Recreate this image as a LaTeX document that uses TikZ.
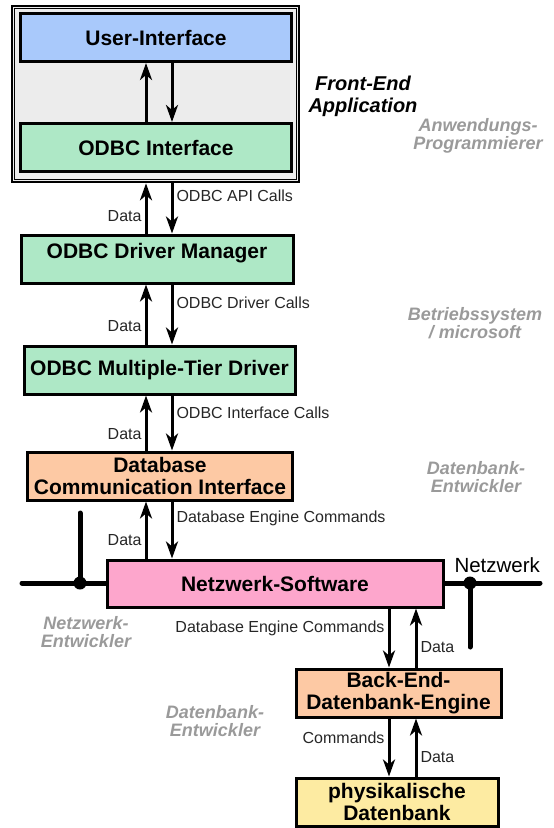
\documentclass[tikz,border=0pt]{standalone}
\usepackage{fontspec}
\setmainfont{Liberation Sans}
\usetikzlibrary{arrows.meta, positioning}

\definecolor{uiBlue}{HTML}{A9C9FB}
\definecolor{odbcGreen}{HTML}{AEE8C6}
\definecolor{dbOrange}{HTML}{FDC9A4}
\definecolor{netPink}{HTML}{FDA6CC}
\definecolor{dbYellow}{HTML}{FDEBA2}
\definecolor{frameGray}{HTML}{ECECEC}
\definecolor{roleGray}{HTML}{9A9A9A}

\begin{document}
\begin{tikzpicture}[x=1pt, y=-1pt,
    box/.style={draw, line width=3pt, inner sep=0pt, align=center, minimum height=48pt,
      font=\fontsize{21}{21.5}\selectfont\bfseries},
    flowline/.style={draw, line width=3pt, -{Stealth[length=17pt, width=12pt, inset=5pt]}},
    lbl/.style={font=\fontsize{16}{16}\selectfont, inner sep=3pt, text=black!85},
    role/.style={font=\fontsize{18}{18}\selectfont\bfseries\itshape, text=roleGray, align=center},
    lan/.style={line width=5pt, line cap=round},
    hub/.style={circle, fill, inner sep=0pt, minimum size=13pt}]
		\useasboundingbox (0,0) rectangle (554,828);

		% front-end application frame
		\node[draw, line width=2.6pt, fill=frameGray, minimum width=287pt, minimum height=176pt] (app) at (155.5,94) {};
		\draw[line width=1pt] ([shift={(4,4)}]app.north west) rectangle ([shift={(-4,-4)}]app.south east);

		\coordinate (colU) at (146,0);
		\coordinate (colD) at (172,0);
		\coordinate (colBD) at (389,0);
		\coordinate (colBU) at (416,0);

		% network line
		\coordinate (lanL) at (22,583);
		\coordinate (lanR) at (540,583);
		\node[hub] (hubL) at (80,583) {};
		\node[hub] (hubR) at (470,583) {};
		\coordinate (stubL) at (80,513);
		\coordinate (stubR) at (470,647);

		\node[box, fill=uiBlue, minimum width=271pt] (ui) at (156,37.5) {User-Interface};
		\node[box, fill=odbcGreen, minimum width=271pt] (odbci) at (156,147.5) {ODBC Interface};
		\node[box, fill=odbcGreen, minimum width=272pt, text height=23pt, text depth=25pt] (mgr) at (157,259) {ODBC Driver Manager};
		\node[box, fill=odbcGreen, minimum width=271pt] (tier) at (159.5,370) {ODBC Multiple-Tier Driver};
		\node[box, fill=dbOrange, minimum width=265pt] (dci) at (160,476) {Database\\Communication Interface};
		\draw[lan] (lanL) -- (lanR);
		\draw[lan] (stubL) -- (hubL);
		\draw[lan] (hubR) -- (stubR);
		\node[box, fill=netPink, minimum width=336pt, minimum height=47pt] (net) at (275,583.5) {Netzwerk-Software};
		\node[box, fill=dbOrange, minimum width=205pt] (beng) at (398.5,693) {Back-End-\\Datenbank-Engine};
		\node[box, fill=dbYellow, minimum width=202pt] (phys) at (397,802) {physikalische\\Datenbank};

		\node[font=\fontsize{20.5}{20.5}\selectfont, anchor=west] (lan) at (451,565) {Netzwerk};

		% roles
		\node[font=\fontsize{20}{22}\selectfont\bfseries\itshape, align=center] (fe) at (363,96) {Front-End\\Application};
		\node[role] (prog) at (478,135.5) {Anwendungs-\\Programmierer};
		\node[role] (os) at (475,323.5) {Betriebssystem\\/ microsoft};
		\node[role] (dbdev) at (476,477.5) {Datenbank-\\Entwickler};
		\node[role] (netdev) at (86,632.5) {Netzwerk-\\Entwickler};
		\node[role] (dbdev2) at (215,721) {Datenbank-\\Entwickler};

		\draw[flowline] (odbci.north -| colU) -- (ui.south -| colU);
		\draw[flowline] (ui.south -| colD) -- (odbci.north -| colD);
		\draw[flowline] (mgr.north -| colU) -- node[lbl, pos=.34, left] {Data} (app.south -| colU);
		\draw[flowline] (app.south -| colD) -- node[lbl, pos=.25, right] {ODBC API Calls} (mgr.north -| colD);
		\draw[flowline] (tier.north -| colU) -- node[lbl, pos=.3, left] {Data} (mgr.south -| colU);
		\draw[flowline] (mgr.south -| colD) -- node[lbl, pos=.3, right] {ODBC Driver Calls} (tier.north -| colD);
		\draw[flowline] (dci.north -| colU) -- node[lbl, pos=.29, left] {Data} (tier.south -| colU);
		\draw[flowline] (tier.south -| colD) -- node[lbl, pos=.31, right] {ODBC Interface Calls} (dci.north -| colD);
		\draw[flowline] (net.north -| colU) -- node[lbl, pos=.33, left] {Data} (dci.south -| colU);
		\draw[flowline] (dci.south -| colD) -- node[lbl, pos=.3, right] {Database Engine Commands} (net.north -| colD);
		\draw[flowline] (net.south -| colBD) -- node[lbl, pos=.34, left] {Database Engine Commands} (beng.north -| colBD);
		\draw[flowline] (beng.north -| colBU) -- node[lbl, pos=.34, right] {Data} (net.south -| colBU);
		\draw[flowline] (beng.south -| colBD) -- node[lbl, pos=.33, left] {Commands} (phys.north -| colBD);
		\draw[flowline] (phys.north -| colBU) -- node[lbl, pos=.34, right] {Data} (beng.south -| colBU);
	\end{tikzpicture}
\end{document}
